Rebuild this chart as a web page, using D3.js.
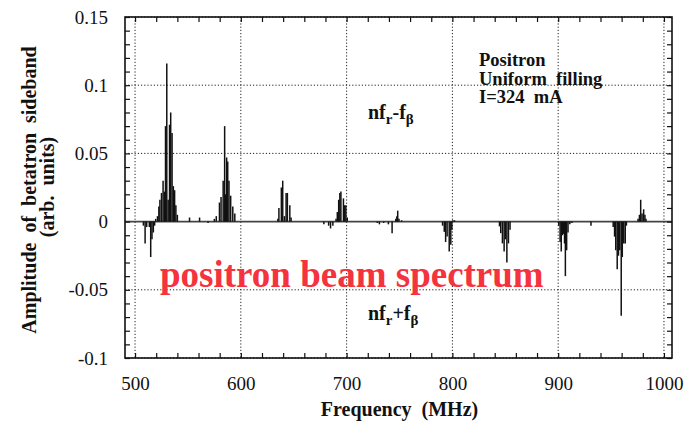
<!DOCTYPE html>
<html>
<head>
<meta charset="utf-8">
<script src="https://cdn.jsdelivr.net/npm/d3@7"></script>
<style>
body { margin: 0; background: #fff; }
svg text { font-family: "Liberation Serif", "Times New Roman", serif; fill: #111; }
</style>
</head>
<body>
<div id="chart"></div>
<script>
// sideband lines: frequency (MHz) and amplitude (arb. units)
var freqMHz = [
  507.9, 509.5, 511, 513.5, 514.8, 516, 517.3, 518.5,
  519.5, 521.2, 522.5, 523.5, 525, 526.5, 527.7, 528.8, 530, 531.3, 532.6, 533.7, 535, 536.2, 537.4, 538.6, 540,
  551.5, 561, 569,
  575, 576.8, 579.8, 581.3, 583.3, 584.7, 585.7, 586.6, 587.6, 588.8, 590.4, 592.4, 594.3,
  635, 636, 638.3, 639.6, 641.2, 642.8, 644, 646.3, 647.5,
  678.5, 683, 684.8, 687, 690, 691.2, 692.5, 693.6, 694.6, 697, 698.2, 699.3, 700.6,
  729, 731, 735, 739.5, 743, 746.5, 747.5, 748.3, 749.5, 752,
  790.7, 792.3, 793.6, 795, 797, 798.5, 799.5, 800.5, 802,
  844.5, 845.7, 847.3, 848.9, 850, 851.5, 853, 854.5,
  900.5, 901.8, 902.9, 904, 905, 906, 906.8, 908, 909.3, 911, 913,
  931,
  952, 953.3, 954.4, 955.8, 957, 958.2, 959.6, 960.6, 962, 963.4, 964.5,
  975.5, 976.8, 978, 979.3, 980.8, 982, 983
];
var amplitude = [
  -0.003, -0.016, -0.004, -0.004, -0.026, -0.013, -0.008, -0.003,
  0.002, 0.004, 0.011, 0.016, 0.021, 0.030, 0.022, 0.070, 0.116, 0.016, 0.071, 0.080, 0.065, 0.026, 0.023, 0.012, 0.005,
  0.003, 0.003, -0.001,
  0.002, 0.004, 0.014, 0.018, 0.030, 0.070, 0.020, 0.047, 0.044, 0.030, 0.019, 0.011, 0.006,
  0.002, 0.010, 0.025, 0.030, 0.004, 0.021, 0.021, 0.012, 0.003,
  -0.002, -0.003, -0.005, -0.003, 0.002, 0.007, 0.016, 0.021, 0.022, 0.017, 0.012, 0.012, 0.003,
  -0.001, -0.002, -0.001, -0.002, -0.0085, 0.002, 0.004, 0.008, 0.002, 0.001,
  -0.003, -0.0075, -0.015, -0.011, -0.022, -0.017, -0.006, 0.001, 0.001,
  -0.0035, -0.0085, -0.016, -0.022, -0.013, -0.030, -0.016, -0.006,
  -0.003, -0.015, -0.022, -0.010, -0.009, -0.016, -0.040, -0.021, -0.008, -0.002, -0.001,
  -0.003,
  -0.004, -0.011, -0.021, -0.035, -0.025, -0.021, -0.069, -0.026, -0.016, -0.016, -0.003,
  0.002, 0.005, 0.016, 0.006, 0.009, 0.005, 0.002
];
var xTickValues = [500, 600, 700, 800, 900, 1000];
var yTickValues = [-0.1, -0.05, 0, 0.05, 0.1, 0.15];
var infoLines = ["Positron", "Uniform  filling", "I=324  mA"];

var width = 684, height = 422;
var plotLeft = 125, plotRight = 672, plotTop = 17, plotBottom = 358;

var svg = d3.select("#chart").append("svg")
  .attr("width", width)
  .attr("height", height);

var x = d3.scaleLinear().domain([490.5, 1007.6]).range([plotLeft, plotRight]);
var y = d3.scaleLinear().domain([-0.1, 0.15]).range([plotBottom, plotTop]);

// dotted grid
svg.append("g").selectAll("line")
  .data(xTickValues)
  .enter().append("line")
  .attr("x1", d => x(d)).attr("x2", d => x(d))
  .attr("y1", plotTop).attr("y2", plotBottom)
  .attr("stroke", "#222").attr("stroke-width", 1)
  .attr("stroke-dasharray", "1.2,2");
svg.append("g").selectAll("line")
  .data(yTickValues.filter(d => d !== 0))
  .enter().append("line")
  .attr("x1", plotLeft).attr("x2", plotRight)
  .attr("y1", d => y(d)).attr("y2", d => y(d))
  .attr("stroke", "#222").attr("stroke-width", 1)
  .attr("stroke-dasharray", "1.2,2");

// zero line
svg.append("line")
  .attr("x1", plotLeft).attr("x2", plotRight)
  .attr("y1", y(0)).attr("y2", y(0))
  .attr("stroke", "#444").attr("stroke-width", 1.6);

// spectrum lines
svg.append("g").selectAll("line")
  .data(freqMHz)
  .enter().append("line")
  .attr("x1", d => x(d)).attr("x2", d => x(d))
  .attr("y1", y(0))
  .attr("y2", (d, i) => y(amplitude[i]))
  .attr("stroke", "#111").attr("stroke-width", 1.5);

// axes, ticks pointing inward
var minorX = d3.range(500, 1001, 20);
var minorY = d3.range(-10, 16).map(d => d / 100);

svg.append("g")
  .attr("transform", "translate(0," + plotBottom + ")")
  .call(d3.axisBottom(x).tickValues(minorX).tickSize(-5).tickPadding(19)
    .tickFormat(d => xTickValues.indexOf(d) >= 0 ? d : ""))
  .call(g => g.select(".domain").remove())
  .selectAll("text").style("font-size", "19px");
svg.append("g")
  .attr("transform", "translate(0," + plotTop + ")")
  .call(d3.axisTop(x).tickValues(minorX).tickSize(-5).tickFormat(""))
  .call(g => g.select(".domain").remove());
svg.append("g")
  .attr("transform", "translate(" + plotLeft + ",0)")
  .call(d3.axisLeft(y).tickValues(minorY).tickSize(-5).tickPadding(17)
    .tickFormat(d => yTickValues.some(v => Math.abs(v - d) < 1e-9) ? String(+d.toFixed(2)) : ""))
  .call(g => g.select(".domain").remove())
  .selectAll("text").style("font-size", "19px");
svg.append("g")
  .attr("transform", "translate(" + plotRight + ",0)")
  .call(d3.axisRight(y).tickValues(minorY).tickSize(-5).tickFormat(""))
  .call(g => g.select(".domain").remove());
svg.selectAll(".tick line").attr("stroke", "#111").attr("stroke-width", 1.2);

// frame
svg.append("rect")
  .attr("x", plotLeft).attr("y", plotTop)
  .attr("width", plotRight - plotLeft).attr("height", plotBottom - plotTop)
  .attr("fill", "none").attr("stroke", "#111").attr("stroke-width", 1.6);

// axis titles
svg.append("text")
  .attr("x", (x(500) + x(1000)) / 2).attr("y", 416)
  .attr("text-anchor", "middle")
  .style("font-size", "20px").style("font-weight", "bold").style("white-space", "pre")
  .text("Frequency  (MHz)");
svg.append("text")
  .attr("transform", "translate(36,190) rotate(-90)")
  .attr("text-anchor", "middle")
  .style("font-size", "20px").style("font-weight", "bold").style("white-space", "pre")
  .text("Amplitude  of  betatron  sideband");
svg.append("text")
  .attr("transform", "translate(54,187) rotate(-90)")
  .attr("text-anchor", "middle")
  .style("font-size", "20px").style("font-weight", "bold").style("white-space", "pre")
  .text("(arb.  units)");

// sideband labels
function sideband(yPos, sign) {
  var t = svg.append("text")
    .attr("x", 368).attr("y", yPos)
    .style("font-size", "20px").style("font-weight", "bold");
  t.append("tspan").text("nf");
  t.append("tspan").attr("dy", 5).style("font-size", "15px").text("r");
  t.append("tspan").attr("dy", -5).text(sign + "f");
  t.append("tspan").attr("dy", 5).style("font-size", "15px").text("\u03b2");
}
sideband(119, "-");
sideband(320, "+");

// run info
svg.append("g").selectAll("text")
  .data(infoLines)
  .enter().append("text")
  .attr("x", 479).attr("y", (d, i) => 66 + i * 18.5)
  .style("font-size", "18.5px").style("font-weight", "bold").style("white-space", "pre")
  .text(d => d);

// red caption
svg.append("text")
  .attr("x", 160).attr("y", 287)
  .style("font-size", "37px").style("font-weight", "bold")
  .style("fill", "#f4333e")
  .text("positron beam spectrum");
</script>
</body>
</html>
